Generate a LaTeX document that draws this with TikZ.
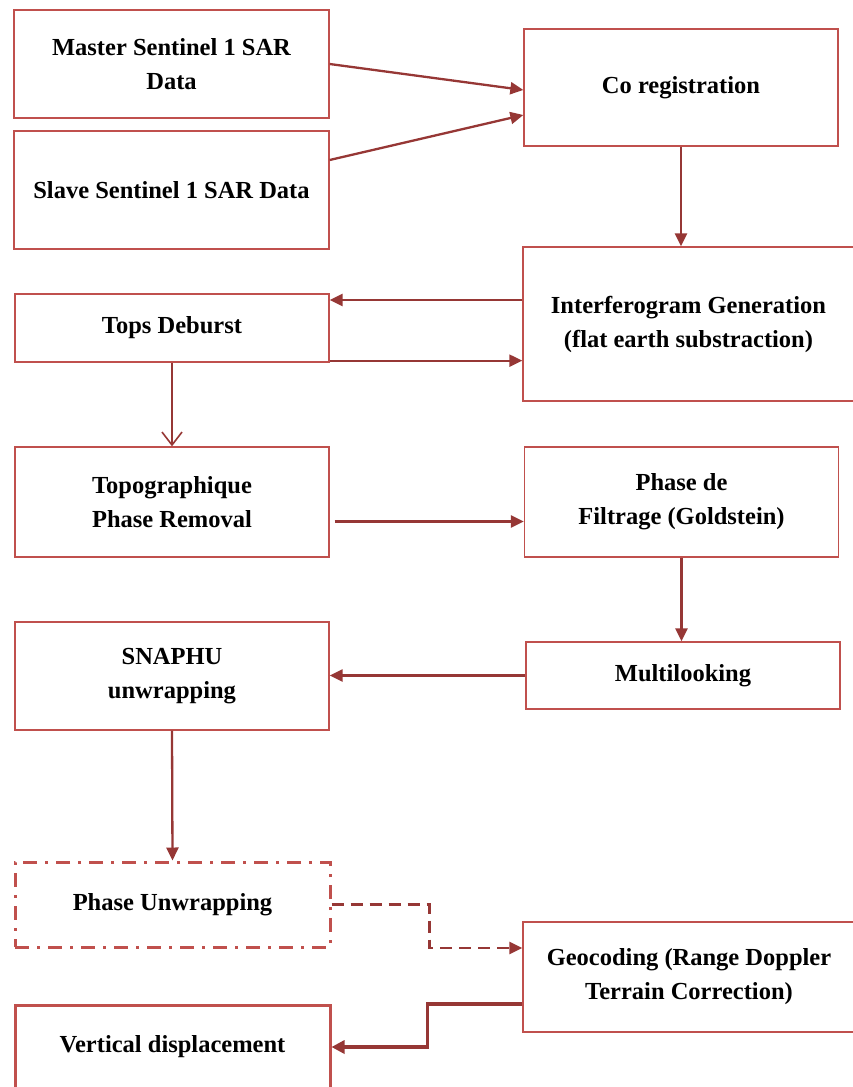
\documentclass[tikz,border=0pt]{standalone}
\usepackage{fontspec}
\setmainfont{Liberation Serif}
\usetikzlibrary{arrows.meta}
\definecolor{boxred}{RGB}{192,80,77}
\definecolor{linkred}{RGB}{150,55,53}
\tikzset{
	procbox/.style={draw=boxred,line width=1.3pt,rectangle,align=center,inner sep=0pt,
		font=\fontsize{24.5}{34}\selectfont\bfseries},
	link/.style={draw=linkred,line width=2.3pt,-{Triangle[length=13pt,width=12pt]}},
	openlink/.style={draw=linkred,line width=1.6pt,-{Straight Barb[length=13pt,width=20pt]}},
	dashlink/.style={link,line width=2.8pt,dash pattern=on 12pt off 7pt},
	boldlink/.style={draw=linkred,line width=3.6pt,-{Triangle[length=13pt,width=13pt]}},
}
\begin{document}
\begin{tikzpicture}[x=1pt,y=-1pt]
	% Cadre de la page
	\useasboundingbox (0,0) rectangle (853,1087);
	\def\lw{315pt} \def\rw{314pt}
	%
	% Colonne gauche
	\node[procbox,minimum width=\lw,minimum height=108pt] (master) at (171.5,64) {Master Sentinel 1 SAR\\Data};
	\node[procbox,minimum width=\lw,minimum height=118pt] (slave) at (171.5,190) {Slave Sentinel 1 SAR Data};
	\node[procbox,minimum width=\rw,minimum height=68pt] (tops) at (172,328) {Tops Deburst};
	\node[procbox,minimum width=\rw,minimum height=110pt] (topo) at (172,502) {Topographique\\Phase Removal};
	\node[procbox,minimum width=\rw,minimum height=108pt] (snaphu) at (172,676) {SNAPHU\\unwrapping};
	\node[procbox,line width=3pt,dash pattern=on 14pt off 8pt on 3pt off 8pt,
		minimum width=\lw,minimum height=85pt] (phaseu) at (172.5,904.5) {Phase Unwrapping};
	\node[procbox,line width=3pt,minimum width=\lw,minimum height=84pt] (vert) at (172.5,1047) {Vertical displacement};
	%
	% Colonne droite
	\node[procbox,minimum width=\rw,minimum height=117pt] (coreg) at (681,87.5) {Co registration};
	\node[procbox,minimum width=331pt,minimum height=154pt] (interf) at (688.5,324) {Interferogram Generation\\(flat earth substraction)};
	\node[procbox,minimum width=\rw,minimum height=110pt] (filt) at (681.5,502) {Phase de\\Filtrage (Goldstein)};
	\node[procbox,minimum width=\rw,minimum height=67pt] (multi) at (683,675.5) {Multilooking};
	\node[procbox,minimum width=332pt,minimum height=110pt] (geo) at (689,977) {Geocoding (Range Doppler\\Terrain Correction)};
	%
	% Points de raccord
	\coordinate (co1) at ([yshift=-2.5pt]coreg.west);
	\coordinate (co2) at ([yshift=-27.5pt]coreg.west);
	\coordinate (ig1) at ([yshift=24pt]interf.west);
	\coordinate (td1) at ([yshift=2pt]tops.south east);
	\coordinate (tp1) at ([xshift=5pt,yshift=-19.5pt]topo.east);
	\coordinate (gc1) at ([yshift=29pt]geo.west);
	\coordinate (gc2) at ([yshift=-27pt]geo.west);
	%
	% Liaisons
	\draw[link] (master.east) -- (co1);
	\draw[link] ([yshift=30pt]slave.east) -- (co2);
	\draw[link] (coreg.south) -- (coreg.south |- interf.north);
	\draw[link] (ig1) -- (ig1 -| tops.east);
	\draw[link] (td1) -- (td1 -| interf.west);
	\draw[openlink] (tops.south) -- (topo.north);
	\draw[link] (tp1) -- (tp1 -| filt.west);
	\draw[link] (filt.south) -- (filt.south |- multi.north);
	\draw[link] (multi.west) -- (multi.west -| snaphu.east);
	\draw[link] (snaphu.south) -- (phaseu.north);
	\draw[dashlink] (phaseu.east) -- ++(98,0) |- (gc1);
	\draw[boldlink] (gc2) -- ++(-95,0) |- (vert.east);
\end{tikzpicture}
\end{document}
